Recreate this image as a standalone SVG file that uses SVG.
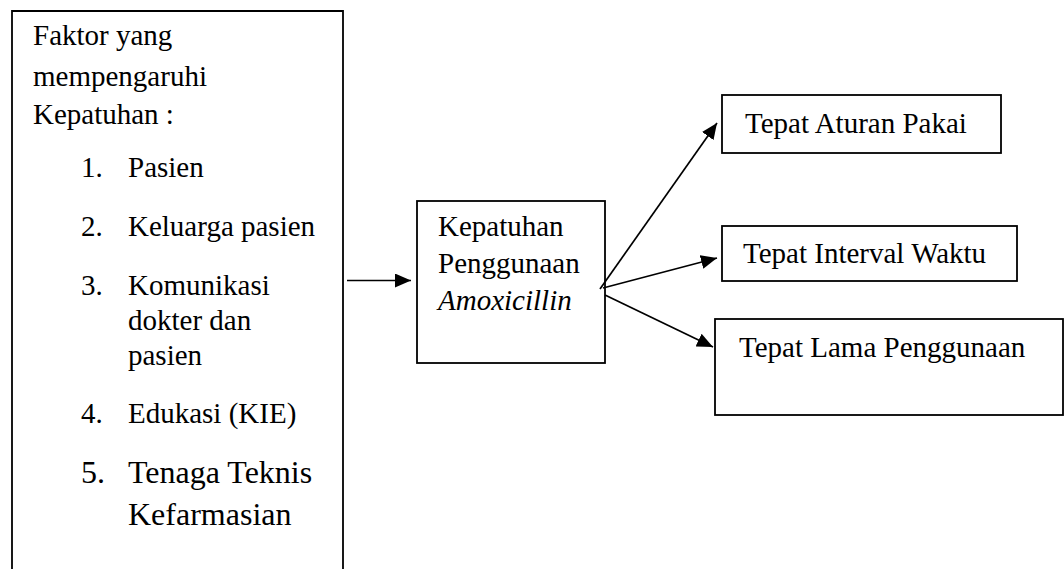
<svg xmlns="http://www.w3.org/2000/svg" width="1064" height="569" viewBox="0 0 1064 569">
<defs>
<style>
.box{fill:#fff;stroke:#000;stroke-width:1.8}
.t{font-family:'Liberation Serif','DejaVu Serif',serif;font-size:29px;fill:#000}
.big{font-size:32px}
.it{font-style:italic}
.ln{stroke:#000;stroke-width:1.7;fill:none}
</style>
<marker id="ah" viewBox="0 0 16 14" refX="16" refY="7" markerWidth="16" markerHeight="14" markerUnits="userSpaceOnUse" orient="auto">
<path d="M0,0 L16,7 L0,14 Z" fill="#000"/>
</marker>
</defs>
<rect width="1064" height="569" fill="#fff"/>
<g id="factors">
<path class="box" d="M12,569 V11 H343 V569"/>
<text class="t" x="33" y="45">Faktor yang</text>
<text class="t" x="33" y="86">mempengaruhi</text>
<text class="t" x="33" y="124">Kepatuhan :</text>
<text class="t" x="81" y="177">1.</text><text class="t" x="128" y="177">Pasien</text>
<text class="t" x="81" y="236">2.</text><text class="t" x="128" y="236">Keluarga pasien</text>
<text class="t" x="81" y="295">3.</text><text class="t" x="128" y="295">Komunikasi</text>
<text class="t" x="128" y="330">dokter dan</text>
<text class="t" x="128" y="365">pasien</text>
<text class="t" x="81" y="423">4.</text><text class="t" x="128" y="423">Edukasi (KIE)</text>
<text class="t big" x="81" y="483">5.</text><text class="t big" x="128" y="483">Tenaga Teknis</text>
<text class="t big" x="128" y="525">Kefarmasian</text>
</g>
<g id="kepatuhan">
<rect class="box" x="417" y="201" width="188" height="162"/>
<text class="t" x="438" y="236">Kepatuhan</text>
<text class="t" x="438" y="273">Penggunaan</text>
<text class="t it" x="438" y="310">Amoxicillin</text>
</g>
<g id="aturan">
<rect class="box" x="722" y="95" width="279" height="58"/>
<text class="t" x="745" y="133">Tepat Aturan Pakai</text>
</g>
<g id="interval">
<rect class="box" x="722" y="226" width="295" height="55"/>
<text class="t" x="743" y="263">Tepat Interval Waktu</text>
</g>
<g id="lama">
<rect class="box" x="715" y="319" width="348" height="96"/>
<text class="t" x="739" y="357">Tepat Lama Penggunaan</text>
</g>
<g id="connectors">
<line class="ln" x1="347" y1="280.5" x2="411" y2="280.5" marker-end="url(#ah)"/>
<line class="ln" x1="600" y1="289" x2="717" y2="123" marker-end="url(#ah)"/>
<line class="ln" x1="603" y1="288" x2="717" y2="258" marker-end="url(#ah)"/>
<line class="ln" x1="605" y1="295" x2="713" y2="347" marker-end="url(#ah)"/>
</g>
</svg>
